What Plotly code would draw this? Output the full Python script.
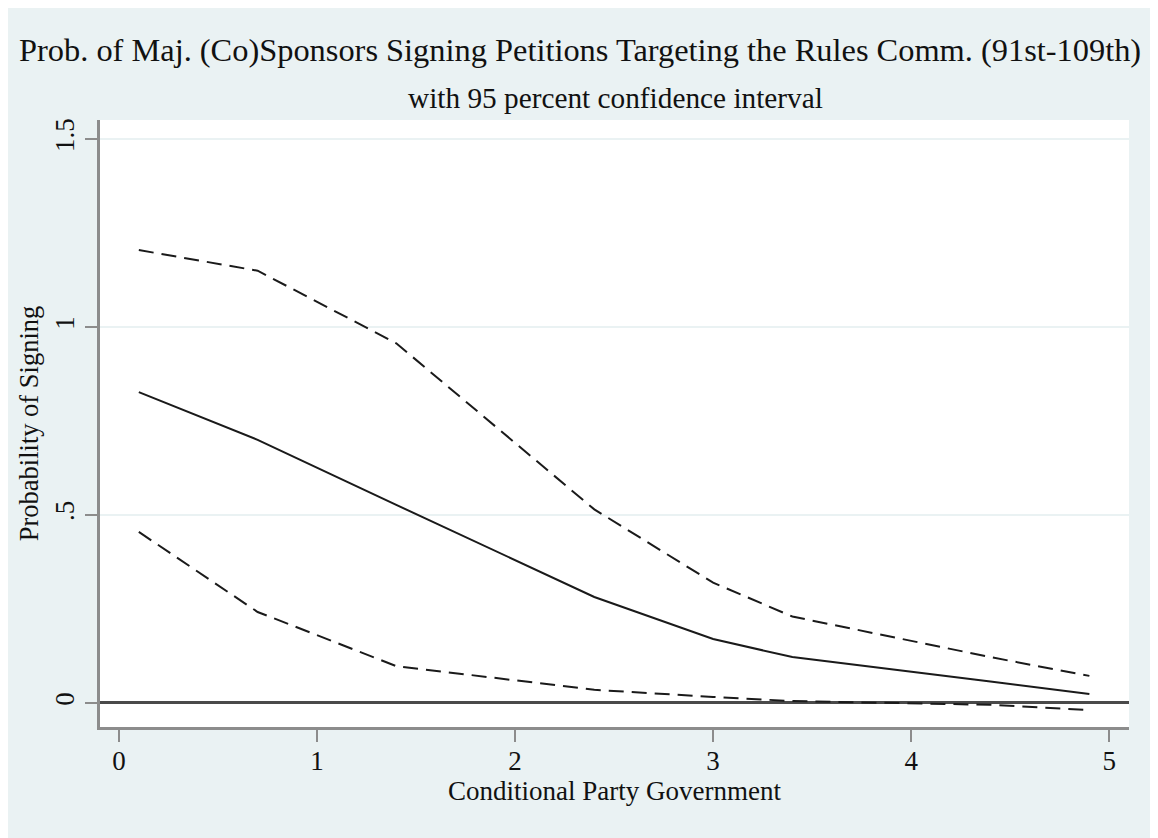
import plotly.graph_objects as go

# Data
cpg = [0.1, 0.7, 1.4, 2.4, 3.0, 3.4, 4.4, 4.9]
prob_mean = [0.827, 0.700, 0.527, 0.282, 0.170, 0.122, 0.057, 0.024]
ci_upper = [1.205, 1.150, 0.957, 0.515, 0.320, 0.230, 0.122, 0.072]
ci_lower = [0.455, 0.242, 0.098, 0.035, 0.016, 0.005, -0.005, -0.019]

x_ticks = [0, 1, 2, 3, 4, 5]
y_ticks = [0, 0.5, 1, 1.5]
y_tick_labels = ["0", ".5", "1", "1.5"]

title_text = "Prob. of Maj. (Co)Sponsors Signing Petitions Targeting the Rules Comm. (91st-109th)"
subtitle_text = "with 95 percent confidence interval"
x_title = "Conditional Party Government"
y_title = "Probability of Signing"

FONT = "Liberation Serif, Times New Roman, serif"
BG = "#EAF2F3"
AXIS_GRAY = "#8C8C8C"

# The page body has an 8px margin, so the figure starts at (8, 8) in the page.
OFF = 8
W, H = 1158 - OFF, 838 - OFF
ML, MR, MT, MB = 100 - OFF, 29, 120 - OFF, 111
PW, PH = W - ML - MR, H - MT - MB


def px_to_paper_x(page_px):
    return (page_px - OFF - ML) / PW


def px_to_paper_y(page_py):
    return (H - MB - (page_py - OFF)) / PH


fig = go.Figure()

fig.add_trace(go.Scatter(x=cpg, y=ci_upper, mode="lines", name="Upper 95% CI",
                         line=dict(color="#1a1a1a", width=2, dash="15px,8px")))
fig.add_trace(go.Scatter(x=cpg, y=prob_mean, mode="lines", name="Probability",
                         line=dict(color="#1a1a1a", width=2)))
fig.add_trace(go.Scatter(x=cpg, y=ci_lower, mode="lines", name="Lower 95% CI",
                         line=dict(color="#1a1a1a", width=2, dash="15px,8px")))

fig.update_layout(
    width=W, height=H,
    margin=dict(l=ML, r=MR, t=MT, b=MB, pad=0),
    paper_bgcolor=BG,
    plot_bgcolor="white",
    showlegend=False,
    font=dict(family=FONT, color="#111111", size=27),
    xaxis=dict(
        range=[-0.096, 5.1],
        tickvals=x_ticks,
        ticks="outside", ticklen=12, tickwidth=2, tickcolor=AXIS_GRAY,
        ticklabelstandoff=-4,
        showline=True, linecolor=AXIS_GRAY, linewidth=3,
        showgrid=False, zeroline=False,
        tickfont=dict(size=27, family=FONT),
        title=dict(text=x_title, font=dict(size=27, family=FONT), standoff=4),
    ),
    yaxis=dict(
        range=[-0.064, 1.551],
        tickvals=y_ticks, ticktext=y_tick_labels,
        tickangle=-90,
        ticks="outside", ticklen=12, tickwidth=2, tickcolor=AXIS_GRAY,
        showline=True, linecolor=AXIS_GRAY, linewidth=3,
        showgrid=True, gridcolor=BG, gridwidth=2,
        zeroline=True, zerolinecolor="#4a4a4a", zerolinewidth=3,
        tickfont=dict(size=27, family=FONT),
        title=dict(text=y_title, font=dict(size=26.5, family=FONT), standoff=4),
    ),
    annotations=[
        dict(text=title_text, x=px_to_paper_x(580), y=px_to_paper_y(50),
             xref="paper", yref="paper", xanchor="center", yanchor="middle",
             showarrow=False, font=dict(size=32.4, family=FONT, color="#111111")),
        dict(text=subtitle_text, x=px_to_paper_x(615), y=px_to_paper_y(98),
             xref="paper", yref="paper", xanchor="center", yanchor="middle",
             showarrow=False, font=dict(size=29.3, family=FONT, color="#111111")),
    ],
)

fig.write_html("out.html")
